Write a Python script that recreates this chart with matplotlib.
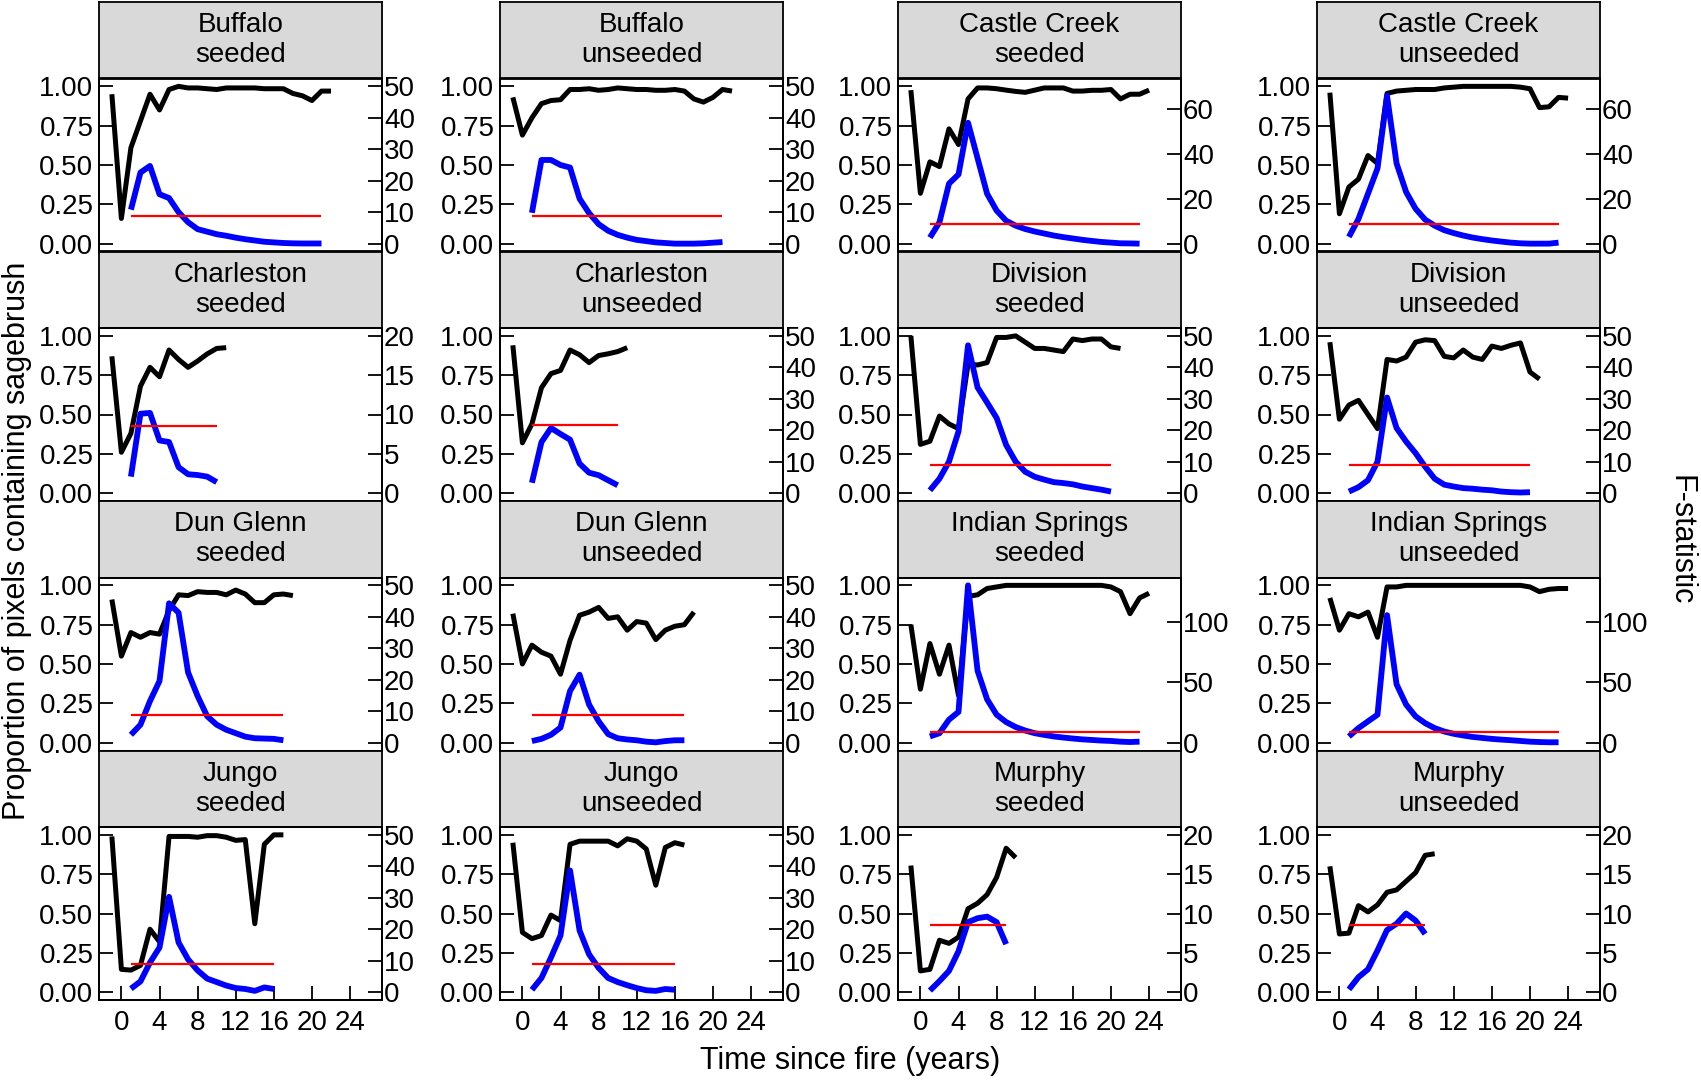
import matplotlib
matplotlib.use("Agg")
import matplotlib.pyplot as plt
import numpy as np

plt.rcParams['font.family'] = ['Liberation Sans', 'DejaVu Sans']

# proportion of pixels with sagebrush: years -1 .. N+1
# F-statistic: years 1 .. N, critical F drawn over the same years
buffalo_seeded_prop = [0.95, 0.16, 0.61, 0.78, 0.95, 0.85, 0.98, 1.00, 0.99, 0.99, 0.985, 0.98,
                       0.99, 0.99, 0.99, 0.99, 0.985, 0.985, 0.985, 0.955, 0.94, 0.91, 0.97, 0.97]
buffalo_seeded_f = [10.8, 22.6, 24.7, 15.7, 14.5, 10.0, 6.8, 4.6, 3.8, 3.0, 2.5, 1.9, 1.4, 1.0,
                    0.6, 0.4, 0.2, 0.1, 0.05, 0.05, 0.05]
buffalo_unseeded_prop = [0.93, 0.69, 0.80, 0.89, 0.91, 0.915, 0.98, 0.98, 0.985, 0.975, 0.98, 0.99,
                         0.985, 0.98, 0.98, 0.975, 0.975, 0.98, 0.97, 0.92, 0.90, 0.93, 0.98, 0.97]
buffalo_unseeded_f = [9.8, 26.6, 26.6, 25.0, 24.2, 14.3, 9.7, 6.2, 4.1, 2.8, 1.9, 1.2, 0.8, 0.4,
                      0.2, 0.0, 0.0, 0.0, 0.1, 0.3, 0.5]

castle_seeded_prop = [0.976, 0.32, 0.52, 0.49, 0.73, 0.63, 0.92, 0.99, 0.99, 0.985, 0.976, 0.968,
                      0.962, 0.976, 0.99, 0.99, 0.99, 0.97, 0.97, 0.975, 0.975, 0.98, 0.92, 0.95,
                      0.95, 0.976]
castle_seeded_f = [2.7, 9.5, 26.7, 30.8, 53.8, 38.0, 22.2, 14.7, 10.2, 8.0, 6.5, 5.4, 4.5, 3.6,
                   2.9, 2.3, 1.7, 1.2, 0.75, 0.45, 0.15, 0.1, 0.0]
castle_unseeded_prop = [0.96, 0.19, 0.36, 0.41, 0.56, 0.51, 0.955, 0.97, 0.975, 0.98, 0.98, 0.98,
                        0.99, 0.995, 1.0, 1.0, 1.0, 1.0, 1.0, 1.0, 0.995, 0.985, 0.865, 0.87,
                        0.93, 0.925]
castle_unseeded_f = [3.0, 11.0, 22.2, 33.5, 65.8, 35.7, 23.0, 15.5, 10.7, 8.0, 6.0, 4.7, 3.6, 2.7,
                     2.0, 1.4, 0.9, 0.45, 0.15, 0.0, 0.0, 0.0, 0.45]

charleston_seeded_prop = [0.87, 0.26, 0.38, 0.68, 0.80, 0.74, 0.91, 0.85, 0.80, 0.84, 0.885, 0.92, 0.925]
charleston_seeded_f = [2.1, 10.1, 10.2, 6.7, 6.5, 3.3, 2.4, 2.3, 2.1, 1.4]
charleston_unseeded_prop = [0.94, 0.32, 0.44, 0.67, 0.76, 0.78, 0.91, 0.88, 0.83, 0.875, 0.886, 0.90, 0.925]
charleston_unseeded_f = [3.3, 16.2, 20.7, 18.8, 17.0, 9.4, 6.5, 5.7, 4.1, 2.5]

division_seeded_prop = [1.0, 0.31, 0.33, 0.49, 0.44, 0.41, 0.82, 0.815, 0.83, 0.99, 0.99, 1.0,
                        0.96, 0.92, 0.92, 0.91, 0.90, 0.98, 0.97, 0.98, 0.98, 0.93, 0.92]
division_seeded_f = [0.9, 4.6, 10.0, 19.6, 47.0, 33.6, 28.8, 23.9, 15.3, 10.0, 6.8, 5.2, 4.3, 3.5,
                     3.2, 2.8, 2.1, 1.6, 1.1, 0.5]
division_unseeded_prop = [0.96, 0.47, 0.56, 0.59, 0.50, 0.41, 0.85, 0.84, 0.865, 0.96, 0.975, 0.97,
                          0.87, 0.86, 0.91, 0.865, 0.85, 0.935, 0.92, 0.94, 0.955, 0.77, 0.725]
division_unseeded_f = [0.5, 1.9, 4.1, 10.0, 30.4, 20.7, 16.4, 12.7, 8.4, 4.6, 2.7, 2.1, 1.6, 1.4,
                       1.1, 0.9, 0.5, 0.3, 0.2, 0.3]

dunglenn_seeded_prop = [0.91, 0.55, 0.70, 0.67, 0.70, 0.69, 0.84, 0.94, 0.935, 0.96, 0.955, 0.955,
                        0.94, 0.97, 0.945, 0.89, 0.89, 0.94, 0.945, 0.935]
dunglenn_seeded_f = [2.5, 5.7, 13.2, 19.6, 44.3, 41.3, 22.3, 14.8, 8.4, 5.7, 4.1, 3.0, 1.9, 1.4,
                     1.3, 1.2, 0.75]
dunglenn_unseeded_prop = [0.82, 0.50, 0.62, 0.575, 0.55, 0.435, 0.65, 0.81, 0.83, 0.86, 0.79, 0.80,
                          0.715, 0.77, 0.76, 0.655, 0.715, 0.74, 0.75, 0.83]
dunglenn_unseeded_f = [0.5, 1.2, 2.5, 4.8, 16.4, 21.6, 12.1, 6.8, 2.7, 1.4, 1.0, 0.75, 0.3, 0.1,
                       0.5, 0.75, 0.75]

indian_seeded_prop = [0.75, 0.34, 0.63, 0.435, 0.62, 0.30, 0.93, 0.94, 0.98, 0.99, 1.0, 1.0, 1.0,
                      1.0, 1.0, 1.0, 1.0, 1.0, 1.0, 1.0, 1.0, 0.99, 0.96, 0.82, 0.92, 0.95]
indian_seeded_f = [5.1, 7.8, 19.0, 25.4, 130.0, 59.4, 35.8, 23.1, 17.0, 12.9, 10.0, 7.8, 6.4, 5.1,
                   4.2, 3.4, 2.7, 2.2, 1.7, 1.4, 0.8, 0.5, 0.8]
indian_unseeded_prop = [0.92, 0.715, 0.82, 0.80, 0.83, 0.67, 0.99, 0.99, 1.0, 1.0, 1.0, 1.0, 1.0,
                        1.0, 1.0, 1.0, 1.0, 1.0, 1.0, 1.0, 1.0, 0.99, 0.96, 0.975, 0.98, 0.98]
indian_unseeded_f = [5.1, 12.0, 17.6, 23.1, 105.4, 48.2, 31.5, 21.7, 16.1, 12.0, 9.2, 7.3, 5.9, 4.7,
                     3.9, 3.1, 2.5, 2.0, 1.4, 0.8, 0.5, 0.3, 0.3]

jungo_seeded_prop = [0.99, 0.145, 0.14, 0.17, 0.40, 0.32, 0.99, 0.99, 0.99, 0.985, 0.995, 0.995,
                     0.985, 0.965, 0.97, 0.435, 0.94, 1.0, 1.0]
jungo_seeded_f = [1.1, 3.4, 9.4, 14.2, 30.3, 15.8, 10.4, 6.9, 4.3, 3.2, 2.1, 1.3, 1.0, 0.4, 1.5, 1.0]
jungo_unseeded_prop = [0.95, 0.38, 0.34, 0.36, 0.49, 0.455, 0.94, 0.96, 0.96, 0.96, 0.96, 0.93,
                       0.975, 0.96, 0.91, 0.68, 0.92, 0.95, 0.935]
jungo_unseeded_f = [0.75, 4.5, 11.0, 18.0, 38.7, 19.6, 12.0, 7.7, 4.5, 3.2, 2.2, 1.3, 0.6, 0.4, 1.0, 0.75]

murphy_seeded_prop = [0.805, 0.135, 0.145, 0.33, 0.31, 0.35, 0.53, 0.565, 0.62, 0.73, 0.915, 0.855]
murphy_seeded_f = [0.2, 1.4, 2.7, 5.2, 8.9, 9.4, 9.6, 8.9, 6.1]
murphy_unseeded_prop = [0.80, 0.37, 0.375, 0.55, 0.51, 0.555, 0.635, 0.65, 0.705, 0.76, 0.87, 0.88]
murphy_unseeded_f = [0.35, 1.9, 2.9, 5.3, 7.9, 8.7, 10.0, 9.1, 7.4]

# critical F per panel, and the F value that lines up with proportion = 1
f_crit = [8.8, 8.8, 8.7, 8.7, 8.6, 21.6, 8.9, 8.9, 8.9, 8.9, 9.0, 9.0, 9.1, 9.1, 8.6, 8.6]
f_top = [50, 50, 70, 70, 20, 50, 50, 50, 50, 50, 130, 130, 50, 50, 20, 20]
f_step = [10, 10, 20, 20, 5, 10, 10, 10, 10, 10, 50, 50, 10, 10, 5, 5]

sites = ["Buffalo", "Buffalo", "Castle Creek", "Castle Creek",
         "Charleston", "Charleston", "Division", "Division",
         "Dun Glenn", "Dun Glenn", "Indian Springs", "Indian Springs",
         "Jungo", "Jungo", "Murphy", "Murphy"]
treatments = ["seeded", "unseeded"] * 8

props = [buffalo_seeded_prop, buffalo_unseeded_prop, castle_seeded_prop, castle_unseeded_prop,
         charleston_seeded_prop, charleston_unseeded_prop, division_seeded_prop, division_unseeded_prop,
         dunglenn_seeded_prop, dunglenn_unseeded_prop, indian_seeded_prop, indian_unseeded_prop,
         jungo_seeded_prop, jungo_unseeded_prop, murphy_seeded_prop, murphy_unseeded_prop]
fstats = [buffalo_seeded_f, buffalo_unseeded_f, castle_seeded_f, castle_unseeded_f,
          charleston_seeded_f, charleston_unseeded_f, division_seeded_f, division_unseeded_f,
          dunglenn_seeded_f, dunglenn_unseeded_f, indian_seeded_f, indian_unseeded_f,
          jungo_seeded_f, jungo_unseeded_f, murphy_seeded_f, murphy_unseeded_f]

x_ticks = [0, 4, 8, 12, 16, 20, 24]
y_ticks = [0.0, 0.25, 0.5, 0.75, 1.0]

W, H = 1701, 1081
fig = plt.figure(figsize=(W / 100, H / 100), dpi=100)

# layout in pixels
col_x = [99, 500, 898, 1317]
row_top = [2, 251.5, 501, 750.5]
pw, sh, ph = 283, 76.5, 173
fs = 20
label_fs = 22
frame_lw = 1.3

for i in range(16):
    r, c = divmod(i, 4)
    x0 = col_x[c]
    top = row_top[r]

    # strip
    sax = fig.add_axes([x0 / W, 1 - (top + sh) / H, pw / W, sh / H])
    sax.set_facecolor('#d9d9d9')
    sax.set_xticks([])
    sax.set_yticks([])
    for s in sax.spines.values():
        s.set_linewidth(frame_lw)
    sax.text(0.5, 0.5, sites[i] + "\n" + treatments[i], ha='center', va='center',
             fontsize=fs, linespacing=1.2, transform=sax.transAxes)

    # panel
    ax = fig.add_axes([x0 / W, 1 - (top + sh + ph) / H, pw / W, ph / H])
    yrs = np.arange(-1, len(props[i]) - 1)
    ax.plot(yrs, props[i], color='black', lw=3.6, solid_capstyle='butt')
    ax.set_xlim(-2.35, 27.35)
    ax.set_ylim(-0.05, 1.05)
    ax.set_yticks(y_ticks)
    ax.set_yticklabels(["%.2f" % v for v in y_ticks])
    if r == 3:
        ax.set_xticks(x_ticks)
        ax.set_xticklabels([str(v) for v in x_ticks])
    else:
        ax.set_xticks([])
    ax.tick_params(direction='in', length=10, width=frame_lw, labelsize=fs, pad=4)
    ax.tick_params(axis='x', pad=7)
    for s in ax.spines.values():
        s.set_linewidth(frame_lw)

    ax2 = ax.twinx()
    fy = np.arange(1, len(fstats[i]) + 1)
    ax2.plot(fy, fstats[i], color='#0000ff', lw=4.2, solid_capstyle='butt')
    ax2.hlines(f_crit[i], fy[0], fy[-1], color='#ff0000', lw=1.6)
    ax2.set_ylim(-0.05 * f_top[i], 1.05 * f_top[i])
    rt = np.arange(0, f_top[i] + 0.1, f_step[i])
    ax2.set_yticks(rt)
    ax2.set_yticklabels([str(int(v)) for v in rt])
    ax2.tick_params(direction='in', length=10, width=frame_lw, labelsize=fs, pad=1.5)
    for s in ax2.spines.values():
        s.set_linewidth(frame_lw)

fig.text(17 / W, 0.5, "Proportion of pixels containing sagebrush", rotation=90,
         ha='center', va='center', fontsize=label_fs)
fig.text(1680 / W, 0.5, "F-statistic", rotation=-90, ha='center', va='center', fontsize=label_fs)
fig.text(0.5, 1 - 1061 / H, "Time since fire (years)", ha='center', va='center', fontsize=label_fs)

fig.savefig("out.png", dpi=100)
